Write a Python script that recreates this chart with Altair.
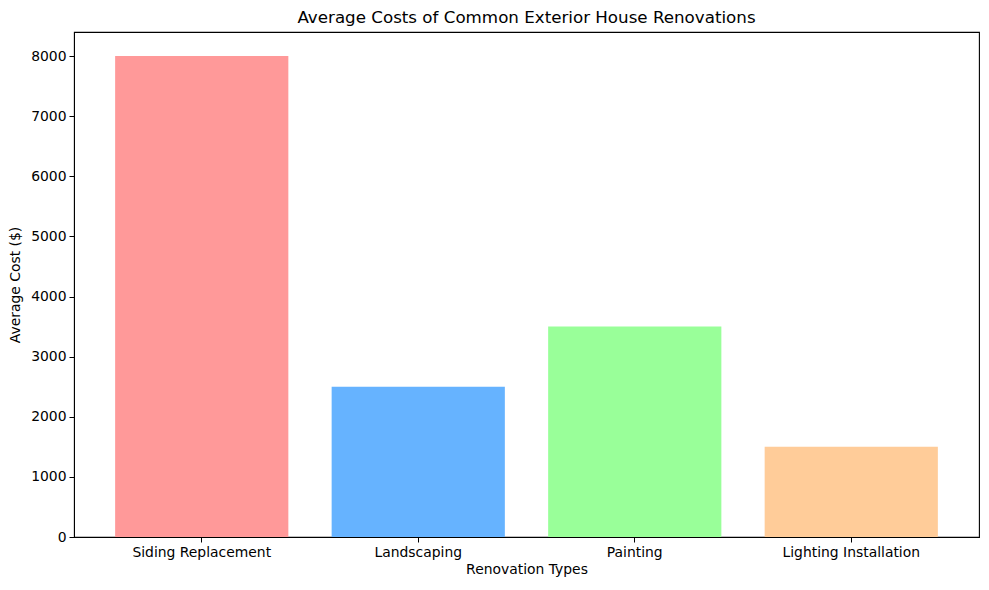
import altair as alt
import pandas as pd

categories = ["Siding Replacement", "Landscaping", "Painting", "Lighting Installation"]
costs = [8000, 2500, 3500, 1500]
colors = ["#ff9999", "#66b3ff", "#99ff99", "#ffcc99"]
y_ticks = [0, 1000, 2000, 3000, 4000, 5000, 6000, 7000, 8000]

df = pd.DataFrame({"type": categories, "cost": costs})

FONT = "DejaVu Sans"

chart = alt.Chart(df).mark_bar().encode(
    x=alt.X("type:N", sort=categories, title="Renovation Types",
            scale=alt.Scale(paddingInner=0.2, paddingOuter=0.19),
            axis=alt.Axis(labelAngle=0, labelFontSize=13.9, titleFontSize=13.9,
                          labelFont=FONT, titleFont=FONT, labelColor="black", titleColor="black",
                          titleFontWeight="normal", domainColor="black", tickColor="black",
                          tickSize=5, labelPadding=3, titlePadding=4, grid=False)),
    y=alt.Y("cost:Q", title="Average Cost ($)",
            scale=alt.Scale(domain=[0, 8400], nice=False),
            axis=alt.Axis(values=y_ticks, format="d", labelFontSize=13.9, titleFontSize=13.9,
                          labelFont=FONT, titleFont=FONT, labelColor="black", titleColor="black",
                          titleFontWeight="normal", domainColor="black", tickColor="black",
                          tickSize=5, labelPadding=3, titlePadding=8, grid=False)),
    color=alt.Color("type:N", scale=alt.Scale(domain=categories, range=colors), legend=None),
).properties(
    width=905,
    height=505,
    title=alt.TitleParams("Average Costs of Common Exterior House Renovations",
                          fontSize=16.7, font=FONT, fontWeight="normal", color="black",
                          anchor="middle", offset=5),
    padding={"left": 66, "top": 24, "right": 2, "bottom": 45},
    autosize=alt.AutoSizeParams(type="none"),
).configure_view(stroke="black", strokeWidth=1.1)

chart.save("out.html", embed_options={"renderer": "svg", "actions": False})
